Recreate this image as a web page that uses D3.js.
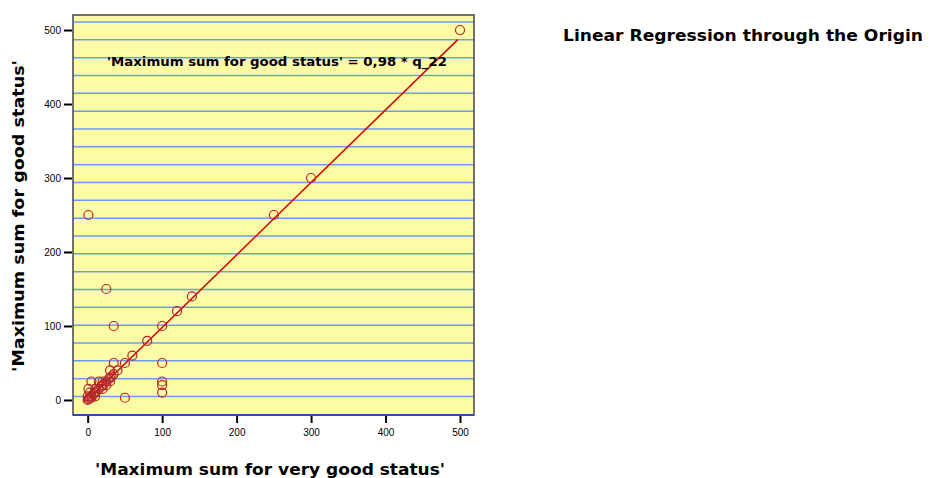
<!DOCTYPE html>
<html><head><meta charset="utf-8">
<script src="https://cdn.jsdelivr.net/npm/d3@7"></script>
<style>body{margin:0;background:#fff;} svg{display:block;font-family:"Liberation Sans",Arial,sans-serif;}</style>
</head><body>
<svg id="c" width="936" height="478"></svg>
<script>
// data: [very good status (q_22), good status]
const xVals = [500,300,250,1,140,120,100,80,60,50,25,35,100,100,100,100,50,
  0,1,2,3,5,5,8,10,10,12,15,18,20,20,22,25,25,28,30,30,32,35,40,0,1,5,15,30,35,20,10,3];
const yVals = [500,300,250,250,140,120,100,80,60,50,150,100,50,25,20,10,3,
  0,1,2,3,5,3,8,10,5,12,15,18,20,15,22,25,20,28,30,25,32,35,40,5,15,25,25,40,50,25,15,10];
const slope = 0.98;
const xTicks = [0,100,200,300,400,500];
const yTicks = [0,100,200,300,400,500];
const title = "Linear Regression through the Origin";
const eqLabel = "'Maximum sum for good status' = 0,98 * q_22";
const xTitle = "'Maximum sum for very good status'";
const yTitle = "'Maximum sum for good status'";

const svg = d3.select("#c");
const L = 73, T = 15, R = 474, B = 415;
const x = d3.scaleLinear().domain([-19.7, 518.8]).range([L, R]);
const y = d3.scaleLinear().domain([-20.3, 520.3]).range([B, T]);
const boldFont = "DejaVu Sans, Verdana, sans-serif";

// background
svg.append("rect").attr("x", L).attr("y", T).attr("width", R - L).attr("height", B - T).attr("fill", "#fdfba6");
// decorative ruled lines
const ruleVals = d3.range(22).map(i => 510.8 - i * 24.1);
svg.append("g").selectAll("line").data(ruleVals).join("line")
  .attr("x1", L).attr("x2", R).attr("y1", d => y(d)).attr("y2", d => y(d))
  .attr("stroke", "#6f9cf2").attr("stroke-width", 1.5);

// regression line
svg.append("line").attr("x1", x(0)).attr("y1", y(0)).attr("x2", x(497)).attr("y2", y(497 * slope))
  .attr("stroke", "#d40000").attr("stroke-width", 1.5);

// points
svg.append("g").selectAll("circle").data(xVals.map((v, i) => [v, yVals[i]])).join("circle")
  .attr("cx", d => x(d[0])).attr("cy", d => y(d[1])).attr("r", 4.5)
  .attr("fill", "none").attr("stroke", "#b5262a").attr("stroke-width", 1.2);

// frame
svg.append("rect").attr("x", L).attr("y", T).attr("width", R - L).attr("height", B - T)
  .attr("fill", "none").attr("stroke", "#444").attr("stroke-width", 1.5);
svg.append("line").attr("x1", L).attr("x2", R).attr("y1", B).attr("y2", B).attr("stroke", "#2b4ea8").attr("stroke-width", 2);

// axes
const xAxis = svg.append("g").attr("transform", `translate(0,${B + 1})`)
  .call(d3.axisBottom(x).tickValues(xTicks).tickSize(7).tickPadding(6));
const yAxis = svg.append("g").attr("transform", `translate(${L - 1},0)`)
  .call(d3.axisLeft(y).tickValues(yTicks).tickSize(8).tickPadding(3));
[xAxis, yAxis].forEach(a => {
  a.select(".domain").remove();
  a.selectAll(".tick line").attr("stroke", "#000").attr("stroke-width", 2);
  a.selectAll(".tick text").attr("font-size", 10).attr("fill", "#000").attr("font-family", "Liberation Sans, Arial, sans-serif");
});

// equation label
svg.append("text").attr("x", 107).attr("y", 66)
  .attr("font-family", boldFont).attr("font-size", 13).attr("font-weight", "bold")
  .attr("textLength", 340).attr("lengthAdjust", "spacingAndGlyphs").text(eqLabel);

// axis titles
svg.append("text").attr("x", 95).attr("y", 475)
  .attr("font-family", boldFont).attr("font-size", 16).attr("font-weight", "bold")
  .attr("textLength", 350).attr("lengthAdjust", "spacingAndGlyphs").text(xTitle);
svg.append("text").attr("transform", "translate(24,372) rotate(-90)")
  .attr("font-family", boldFont).attr("font-size", 16).attr("font-weight", "bold")
  .attr("textLength", 312).attr("lengthAdjust", "spacingAndGlyphs").text(yTitle);

// title
svg.append("text").attr("x", 563).attr("y", 41)
  .attr("font-family", boldFont).attr("font-size", 15).attr("font-weight", "bold")
  .attr("textLength", 360).attr("lengthAdjust", "spacingAndGlyphs").text(title);
</script>
</body></html>
